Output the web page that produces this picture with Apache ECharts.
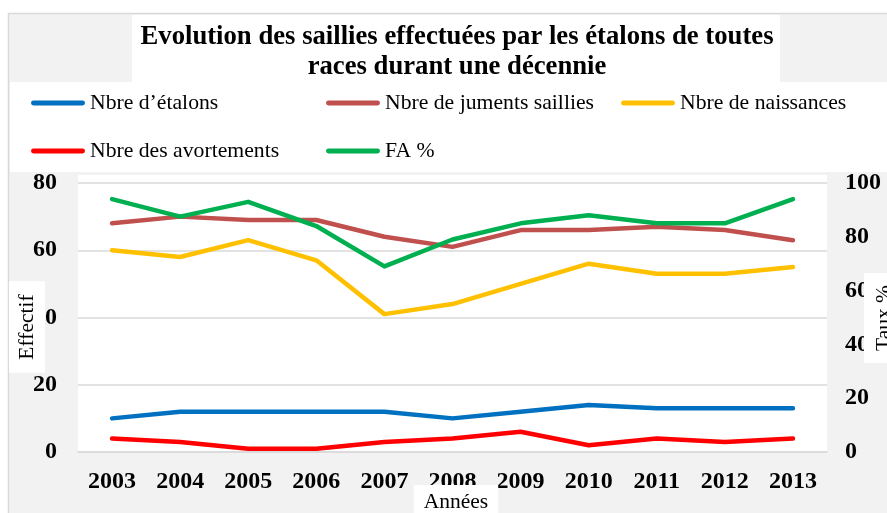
<!DOCTYPE html>
<html>
<head>
<meta charset="utf-8">
<script src="https://cdn.jsdelivr.net/npm/echarts@6/dist/echarts.min.js"></script>
<style>html,body{margin:0;padding:0;background:#fff;}#c{width:887px;height:513px;}</style>
</head>
<body>
<div id="c"></div>
<script>
var years = ['2003','2004','2005','2006','2007','2008','2009','2010','2011','2012','2013'];
var etalons = [10,12,12,12,12,10,12,14,13,13,13];
var juments = [68,70,69,69,64,61,66,66,67,66,63];
var naissances = [60,58,63,57,41,44,50,56,53,53,55];
var avortements = [4,3,1,1,3,4,6,2,4,3,4];
var faPct = [94,87.5,93,84,69,79,85,88,85,85,94];
var seriesNames = ['Nbre d\u2019étalons','Nbre de juments saillies','Nbre de naissances','Nbre des avortements','FA %'];
var seriesColors = ['#0070C0','#C0504D','#FFC000','#FF0000','#00B050'];
var leftTicks = {min:0,max:80,interval:20};
var rightTicks = {min:0,max:100,interval:20};

var FONT = '"Liberation Serif", "Times New Roman", serif';
var chart = echarts.init(document.getElementById('c'), null, {renderer:'canvas'});
var capsule = 'path://M2.5,0 L52.5,0 A2.5,2.5 0 0 1 52.5,5 L2.5,5 A2.5,2.5 0 0 1 2.5,0 Z';
function mkSeries(i, data, yIdx){
  return {name: seriesNames[i], type:'line', data:data, yAxisIndex:yIdx, showSymbol:false, symbol:'none',
    lineStyle:{color:seriesColors[i], width:4.5, cap:'round', join:'round'}, itemStyle:{color:seriesColors[i]}};
}
var legendPos = [[31,92],[326,92],[621,92],[31,140],[326,140]];
var legends = seriesNames.map(function(n, i){
  return {left:legendPos[i][0], top:legendPos[i][1], padding:0, itemGap:0, itemWidth:54, itemHeight:5, icon:capsule,
    textStyle:{fontFamily:FONT, fontSize:21.7, color:'#000'}, data:[n]};
});
chart.setOption({
  animation:false,
  backgroundColor:'#fff',
  title:{text:'Evolution des saillies effectuées par les étalons de toutes\nraces durant une décennie',
    left:457, textAlign:'center', top:22, padding:0,
    textStyle:{fontFamily:FONT, fontWeight:'bold', fontSize:26.7, lineHeight:30, color:'#000'}},
  legend:legends,
  grid:{left:78, right:60, top:183, bottom:61, containLabel:false},
  xAxis:{type:'category', data:years, boundaryGap:true,
    axisLine:{show:true, lineStyle:{color:'#d9d9d9', width:1.5}}, axisTick:{show:false},
    axisLabel:{fontFamily:FONT, fontWeight:'bold', fontSize:24, color:'#000', margin:18}},
  yAxis:[
    {type:'value', min:leftTicks.min, max:leftTicks.max, interval:leftTicks.interval,
     axisLine:{show:false}, axisTick:{show:false},
     splitLine:{lineStyle:{color:'#d9d9d9', width:1.5}},
     axisLabel:{fontFamily:FONT, fontWeight:'bold', fontSize:24, color:'#000', margin:21}},
    {type:'value', position:'right', min:rightTicks.min, max:rightTicks.max, interval:rightTicks.interval,
     axisLine:{show:false}, axisTick:{show:false}, splitLine:{show:false},
     axisLabel:{fontFamily:FONT, fontWeight:'bold', fontSize:24, color:'#000', margin:18}}
  ],
  graphic:[
    {type:'rect', z:-100, silent:true, shape:{x:8.5, y:13.5, width:900, height:520}, style:{fill:'#f2f2f2', stroke:'#d9d9d9', lineWidth:1.5}},
    {type:'rect', z:-99, silent:true, shape:{x:132, y:15, width:648, height:67}, style:{fill:'#fff'}},
    {type:'rect', z:-99, silent:true, shape:{x:10, y:82, width:877, height:90}, style:{fill:'#fff'}},
    {type:'rect', z:-99, silent:true, shape:{x:78, y:175, width:749, height:278}, style:{fill:'#fff'}},
    {type:'text', z:100, x:27, y:327, rotation:Math.PI/2,
     style:{text:'Effectif', font:'21.5px '+FONT, fill:'#000', align:'center', verticalAlign:'middle', backgroundColor:'#fff', padding:[7,13]}},
    {type:'text', z:100, x:884, y:318, rotation:Math.PI/2,
     style:{text:'Taux %', font:'21.5px '+FONT, fill:'#000', align:'center', verticalAlign:'middle', backgroundColor:'#fff', padding:[9,12]}},
    {type:'text', z:100, x:456, y:502,
     style:{text:'Années', font:'21.5px '+FONT, fill:'#000', align:'center', verticalAlign:'middle', backgroundColor:'#fff', padding:[6,10]}}
  ],
  series:[
    mkSeries(0, etalons, 0),
    mkSeries(1, juments, 0),
    mkSeries(2, naissances, 0),
    mkSeries(3, avortements, 0),
    mkSeries(4, faPct, 1)
  ]
});
</script>
</body>
</html>
